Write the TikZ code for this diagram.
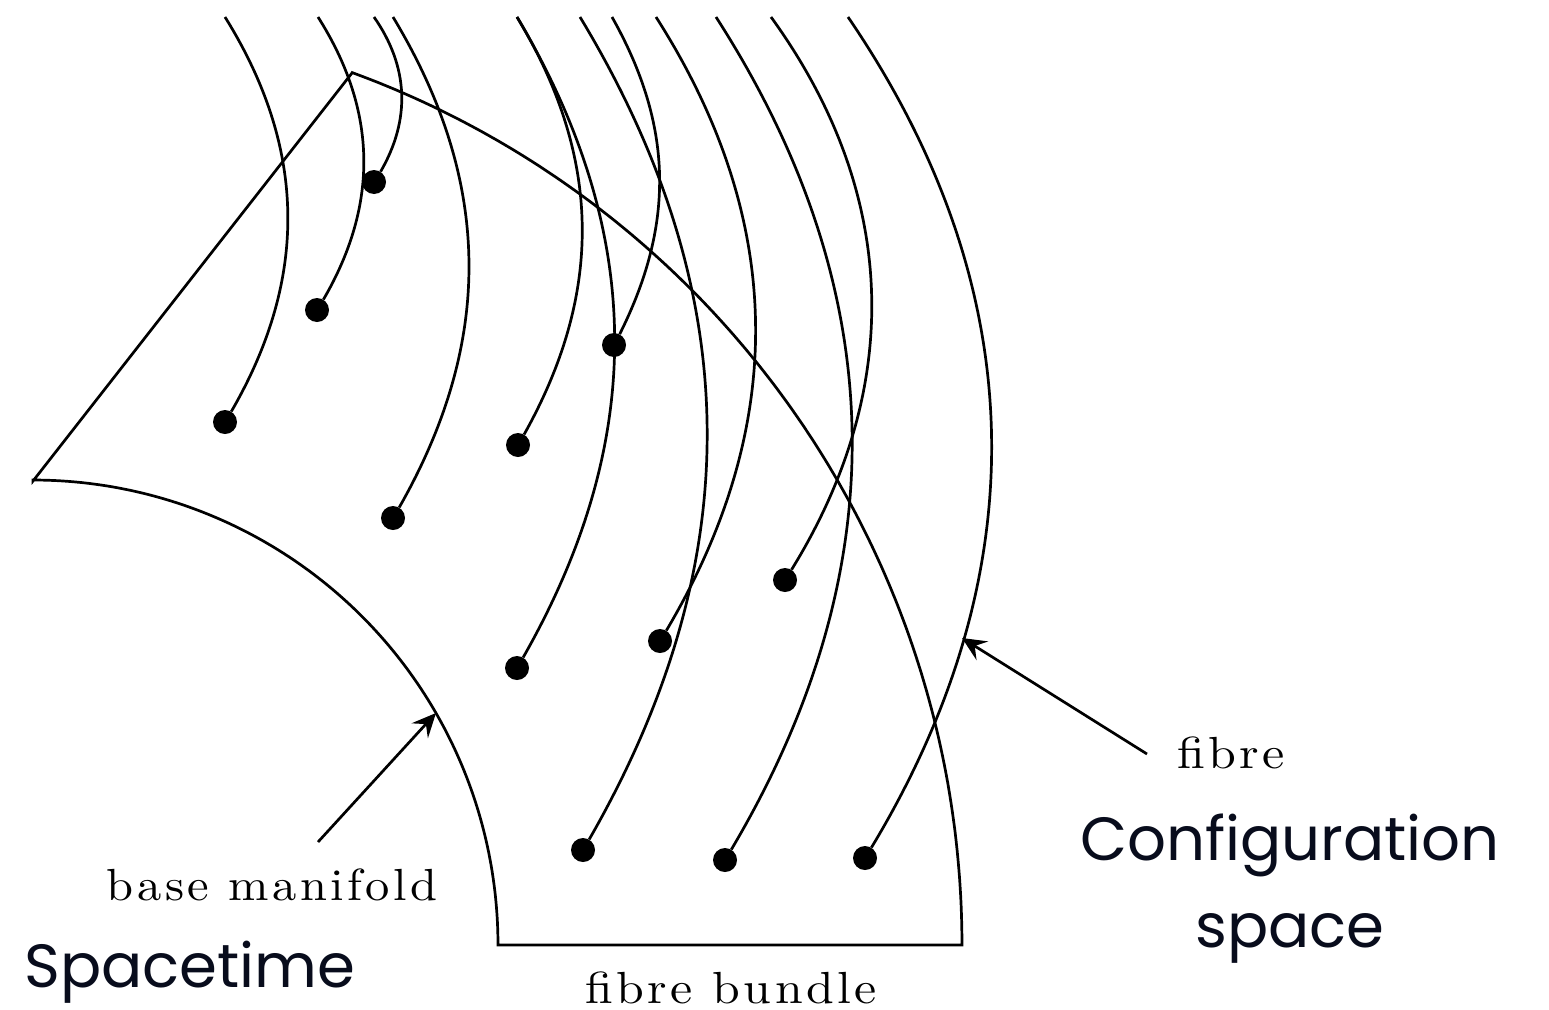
\documentclass[tikz,border=0pt]{standalone}
\usepackage{fontspec}
\usepackage{graphicx}
\usetikzlibrary{arrows.meta}
\newfontfamily\labelsans{Poppins}
\newfontfamily\captionserif{lmroman10-regular}[Extension=.otf]
\definecolor{inkblue}{RGB}{8,12,28}
% spaced-out serif captions, stretched to a given width
\newcommand\widecaption[2]{\captionserif\fontsize{45}{47}\selectfont\addfontfeature{LetterSpace=7}\resizebox{#1}{\height}{#2}}
\begin{document}
\begin{tikzpicture}[x=1pt,y=-1pt,
  edge/.style={line width=2.7pt,line join=miter},
  fibre/.style={line width=2.7pt},
  dot/.style={circle,fill=black,inner sep=0pt,minimum size=24pt},
  pointer/.style={line width=2.7pt,-{Stealth[length=24pt,width=22pt,inset=9pt]}},
  caption/.style={anchor=base,inner sep=0pt,text=black},
  bigsans/.style={anchor=base,inner sep=0pt,text=inkblue,font=\labelsans\fontsize{#1}{#1}\selectfont}]
\useasboundingbox (0,0) rectangle (1549,1009);

% the bundle: a curved strip between two concentric arcs centred at (33,945)
\draw[edge] (33,481) -- (352,73)
  -- plot[domain=-69.9:0,samples=120] ({33+929*cos(\x)},{945+929*sin(\x)})
  -- (498,945)
  -- plot[domain=0:-90,samples=120] ({33+465*cos(\x)},{945+465*sin(\x)})
  -- cycle;

% base points
\node[dot] (d1)  at (374,182) {};
\node[dot] (d2)  at (317,310) {};
\node[dot] (d3)  at (225,422) {};
\node[dot] (d4)  at (614,345) {};
\node[dot] (d5)  at (518,445) {};
\node[dot] (d6)  at (393,518) {};
\node[dot] (d7)  at (785,580) {};
\node[dot] (d8)  at (660,641) {};
\node[dot] (d9)  at (517,668) {};
\node[dot] (d10) at (583,850) {};
\node[dot] (d11) at (725,860) {};
\node[dot] (d12) at (865,858) {};

% free upper ends of the fibres
\coordinate (t1)  at (225,17);
\coordinate (t2)  at (318,17);
\coordinate (t3)  at (374,17);
\coordinate (t4)  at (393,17);
\coordinate (t5)  at (517,17);
\coordinate (t7)  at (580,17);
\coordinate (t8)  at (612,17);
\coordinate (t9)  at (656,17);
\coordinate (t10) at (716,17);
\coordinate (t11) at (771,17);
\coordinate (t12) at (848,17);

% fibres
\draw[fibre] (t1)  to[bend left=31]   (d3);
\draw[fibre] (t2)  to[bend left=31.3] (d2);
\draw[fibre] (t3)  to[bend left=32.5] (d1);
\draw[fibre] (t4)  to[bend left=30.4] (d6);
\draw[fibre] (t5)  to[bend left=30.2] (d5);
\draw[fibre] (t5)  to[bend left=30.2] (d9);
\draw[fibre] (t7)  to[bend left=30.5] (d10);
\draw[fibre] (t8)  to[bend left=28]   (d4);
\draw[fibre] (t9)  to[bend left=31.6] (d8);
\draw[fibre] (t10) to[bend left=31.7] (d11);
\draw[fibre] (t11) to[bend left=33.8] (d7);
\draw[fibre] (t12) to[bend left=32.7] (d12);

% captions
\node[caption] (basecap)   at (272,900)  {\widecaption{330pt}{base manifold}};
\node[caption] (fibrecap)  at (1231,768) {\widecaption{108pt}{fibre}};
\node[caption] (bundlecap) at (731,1003) {\widecaption{292pt}{fibre bundle}};

\node[bigsans=61] (spacetime) at (190,987) {Spacetime};
\node[bigsans=61] (config1)   at (1290,860) {Configuration};
\node[bigsans=61] (config2)   at (1290,947) {space};

% pointers
\coordinate (basetail)  at (318,842);
\coordinate (basetip)   at (436,713);
\coordinate (fibretail) at (1147,754);
\coordinate (fibretip)  at (962,638);
\draw[pointer] (basetail) -- (basetip);
\draw[pointer] (fibretail) -- (fibretip);
\end{tikzpicture}
\end{document}
